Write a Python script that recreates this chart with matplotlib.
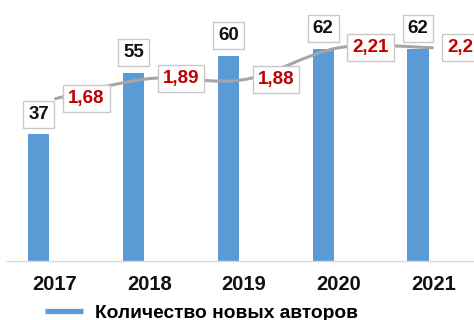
"""Authors per year with average publications line."""

import matplotlib

matplotlib.use("Agg")
import matplotlib.pyplot as plt
import numpy as np
from matplotlib.lines import Line2D
from matplotlib.patches import PathPatch
from matplotlib.path import Path

years = ["2017", "2018", "2019", "2020", "2021"]
new_authors = [37, 55, 60, 62, 62]
avg_ratio = [1.68, 1.89, 1.88, 2.21, 2.21]

BAR_COLOR = "#5b9bd5"
LINE_COLOR = "#a5a5a5"
RED = "#c00000"
FONT = "Liberation Sans"

plt.rcParams["font.family"] = [FONT, "DejaVu Sans"]


def smooth_path(xs, ys):
    """Catmull-Rom style bezier through the points (like a smoothed office line)."""
    pts = np.column_stack([xs, ys]).astype(float)
    ext = np.vstack([pts[0], pts, pts[-1]])
    verts = [pts[0]]
    codes = [Path.MOVETO]
    for i in range(len(pts) - 1):
        p0, p1, p2, p3 = ext[i], ext[i + 1], ext[i + 2], ext[i + 3]
        c1 = p1 + (p2 - p0) / 6
        c2 = p2 - (p3 - p1) / 6
        verts += [c1, c2, p2]
        codes += [Path.CURVE4] * 3
    return Path(verts, codes)


fig = plt.figure(figsize=(4.74, 3.2), dpi=100)
ax = fig.add_axes([7 / 474, 59 / 320, 467 / 474, 261 / 320])
x = np.arange(len(years))
bar_shift = -0.164

ax.bar(x + bar_shift, new_authors, width=0.222, color=BAR_COLOR, zorder=2)
ax.set_xlim(-0.5, 4.427)
ax.set_ylim(0, 76.3)
ax.set_yticks([])
ax.set_xticks(x, years, fontsize=14.5, fontweight="bold")
ax.tick_params(axis="x", length=0, pad=10, colors="#111111")
for side in ("top", "left", "right"):
    ax.spines[side].set_visible(False)
ax.spines["bottom"].set_color("#d9d9d9")
ax.spines["bottom"].set_linewidth(1)

box_black = dict(boxstyle="square,pad=0.27", fc="white", ec="#c8c8c8", lw=1)
box_red = dict(boxstyle="square,pad=0.27", fc="white", ec="#c8c8c8", lw=1)

ax2 = ax.twinx()
ax2.set_ylim(0, 2.705)
ax2.set_yticks([])
for side in ("top", "left", "right", "bottom"):
    ax2.spines[side].set_visible(False)

ax2.add_patch(PathPatch(smooth_path(x, avg_ratio), fc="none", ec=LINE_COLOR,
                        lw=2.2, capstyle="butt", zorder=2))

for xi, v in zip(x, new_authors):
    ax2.annotate(str(v), (xi + bar_shift, v), xycoords=ax.transData,
                 xytext=(0, 14.5), textcoords="offset points",
                 ha="center", va="center", fontsize=13.5, fontweight="bold",
                 color="#111111", bbox=box_black, zorder=5)

for xi, v in zip(x, avg_ratio):
    ax2.annotate(f"{v:.2f}".replace(".", ","), (xi, v),
                 xytext=(23, 0), textcoords="offset points",
                 ha="center", va="center", fontsize=13.5, fontweight="bold",
                 color=RED, bbox=box_red, zorder=5)

handle = Line2D([], [], color=BAR_COLOR, lw=3.8, solid_capstyle="butt")
fig.legend([handle], ["Количество новых авторов"], loc="center left",
           bbox_to_anchor=(45 / 474, 1 - 313 / 320), frameon=False,
           borderpad=0, borderaxespad=0, handlelength=2.0, handletextpad=0.6,
           prop=dict(family=FONT, size=13.8, weight="bold"))

fig.savefig("out.png", dpi=100)
